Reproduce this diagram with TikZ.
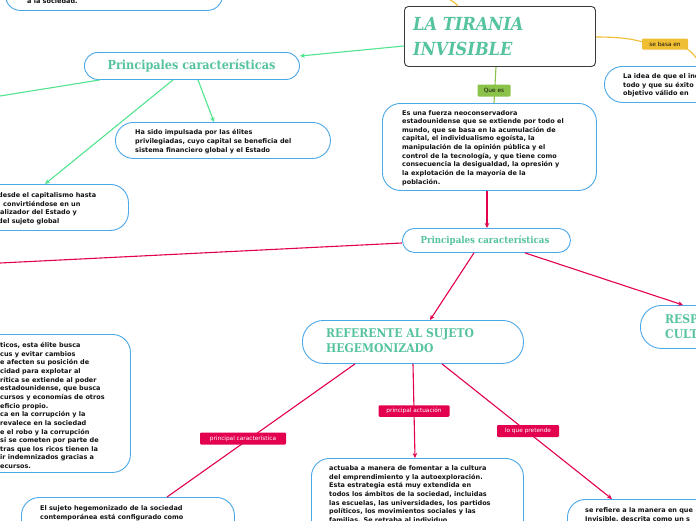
\documentclass[tikz,border=0pt]{standalone}
\usepackage{fontspec}
\setmainfont{DejaVu Sans}
\newfontfamily\slab[FakeStretch=0.9]{DejaVu Serif}
\usetikzlibrary{arrows.meta}
\definecolor{boxblue}{HTML}{4AA8E8}
\definecolor{mgreen}{HTML}{52E48E}
\definecolor{mred}{HTML}{E3004F}
\definecolor{myellow}{HTML}{F0BE32}
\definecolor{lgreen}{HTML}{8BC34A}
\definecolor{tealtxt}{HTML}{55C39E}
\definecolor{ink}{HTML}{111111}
\definecolor{frame}{HTML}{3A3A3A}
\tikzset{
  box/.style={draw=boxblue, line width=0.9pt, fill=white, anchor=north west, inner sep=0pt, rounded corners=#1},
  box/.default=17pt,
  body/.style={anchor=base west, inner sep=0pt, align=left, text=ink,
    font=\fontsize{6.5}{8.65}\selectfont\bfseries},
  head/.style={inner sep=0pt, text=tealtxt, font=\slab\bfseries\fontsize{12.5}{15}\selectfont},
  lab/.style={inner sep=0pt, rounded corners=1.2pt, font=\fontsize{5.8}{7}\selectfont},
  redlab/.style={lab, fill=mred, text=white},
  gline/.style={draw=mgreen, line width=1.1pt},
  rline/.style={draw=mred, line width=1.1pt},
  yline/.style={draw=myellow, line width=1.1pt},
  tip/.style={-{Stealth[length=5pt,width=4.5pt]}}
}
\begin{document}
\begin{tikzpicture}[x=1pt,y=-1pt]
\useasboundingbox (0,0) rectangle (696,520);
\clip (0,0) rectangle (696,520);
\fill[white] (0,0) rectangle (696,520);

% ---------- coordinates for connector ends ----------
\coordinate (ytop) at (450,0);
\coordinate (g0) at (0,96);
\coordinate (r0) at (0,263);
\coordinate (yend) at (703,70);

% ---------- boxes ----------
\node[box=15pt, minimum width=217pt, minimum height=50pt] (tl) at (5,-40) {};
\node[draw=frame, line width=0.9pt, fill=white, rounded corners=4pt, anchor=north west,
      minimum width=191pt, minimum height=60pt, inner sep=0pt] (title) at (404,6) {};
\node[box=13.5pt, minimum width=215pt, minimum height=27pt] (p1) at (84,52) {};
\node[box=18pt, minimum width=215pt, minimum height=36pt] (ha) at (115,122) {};
\node[box=18pt, minimum width=168pt, minimum height=46pt] (bl) at (-40,184) {};
\node[box=18pt, minimum width=130pt, minimum height=36pt] (idea) at (604,66) {};
\node[box=18pt, minimum width=214pt, minimum height=87pt] (es) at (382,103) {};
\node[box=12pt, minimum width=168pt, minimum height=24pt] (p2) at (402,228) {};
\node[box=21pt, minimum width=221pt, minimum height=43pt] (ref) at (302,320) {};
\node[box=21pt, minimum width=100pt, minimum height=43pt] (resp) at (640,305) {};
\node[box=18pt, minimum width=170pt, minimum height=138pt] (lb) at (-40,334) {};
\node[box=18pt, minimum width=213pt, minimum height=60pt] (suj) at (21,497) {};
\node[box=18pt, minimum width=212pt, minimum height=80pt] (act) at (311,458) {};
\node[box=18pt, minimum width=150pt, minimum height=60pt] (ser) at (567,499) {};

% ---------- connectors ----------
\draw[yline] (ytop) .. controls (454,2) .. (title.north west -| 458,6);
\draw[yline] (title.east |- 0,37) .. controls (625,37) and (635,40) .. (643,42);
\draw[yline] (686,48) .. controls (695,55) .. (yend);
\draw[draw=lgreen, line width=1.1pt] (title.south -| 496,66) -- (es.north -| 494,103);
\draw[gline, tip] (title.west |- 0,46) -- (p1.east |- 0,56);
\draw[gline] (p1.south west -| 100,80) -- (g0);
\draw[gline, tip] (p1.south -| 173,80) -- (bl.north -| 45,184);
\draw[gline, tip] (p1.south -| 198,80) -- (ha.north -| 214,122);
\draw[rline, tip] (es.south -| 487,190) -- (p2.north -| 487,228);
\draw[rline] (p2.west |- 0,243) -- (r0);
\draw[rline, tip] (p2.south -| 474,252) -- (ref.north -| 430,320);
\draw[rline, tip] (p2.south -| 525,252) -- (resp.north -| 683,305);
\draw[rline] (ref.south -| 355,363) -- (suj.north -| 167,497);
\draw[rline, tip] (ref.south -| 413,363) -- (act.north -| 415,458);
\draw[rline, tip] (ref.south -| 442,363) -- (ser.north -| 612,499);

% ---------- labels ----------
\node[lab, fill=myellow, text=ink, minimum width=46pt, minimum height=11pt] (lsb) at (665,44) {se basa en};
\node[lab, fill=lgreen, text=ink, minimum width=33pt, minimum height=12pt] (lqe) at (494,90.5) {Que es};
\node[redlab, minimum width=86pt, minimum height=12pt] (lpc) at (243,438.5) {principal característica};
\node[redlab, minimum width=71pt, minimum height=11.5pt] (lpa) at (414,411) {principal actuación};
\node[redlab, minimum width=62pt, minimum height=12pt] (llq) at (528,431) {lo que pretende};

% ---------- texts (anchor = baseline of the last line) ----------
\node[body] (ttl) at (27,3) {a la sociedad.};
\node[inner sep=0pt, anchor=base west, text=tealtxt, align=left,
      font=\slab\bfseries\itshape\fontsize{18}{25}\selectfont] (ttitle) at (413,55) {LA TIRANIA\\INVISIBLE};
\node[head, anchor=base] (tp1) at (191.5,69) {Principales características};
\node[body, font=\fontsize{6.5}{9}\selectfont\bfseries] (tha) at (135,152.5) {Ha sido impulsada por las élites\\privilegiadas, cuyo capital se beneficia del\\sistema financiero global y el Estado};
\node[body] (tbl) at (-2,223.5) {desde el capitalismo hasta\\\hspace*{5pt}convirtiéndose en un\\\hspace*{2pt}alizador del Estado y\\del sujeto global};
\node[body] (tidea) at (623,95.8) {La idea de que el individuo\\todo y que su éxito\\objetivo válido en};
\node[body] (tes) at (402,184.2) {Es una fuerza neoconservadora\\estadounidense que se extiende por todo el\\mundo, que se basa en la acumulación de\\capital, el individualismo egoísta, la\\manipulación de la opinión pública y el\\control de la tecnología, y que tiene como\\consecuencia la desigualdad, la opresión y\\la explotación de la mayoría de la\\población.};
\node[head, anchor=base, font=\slab\bfseries\fontsize{9.6}{12}\selectfont] (tp2) at (485,243.5) {Principales características};
\node[head, anchor=base west, align=left, font=\slab\bfseries\fontsize{12}{15}\selectfont] (tref) at (326,352) {REFERENTE AL SUJETO\\HEGEMONIZADO};
\node[head, anchor=base west, align=left, font=\slab\bfseries\fontsize{12}{15}\selectfont] (tresp) at (665,338) {RESP\\CULT};
\node[body] (tlb) at (0,468.6) {ticos, esta élite busca\\cus y evitar cambios\\e afecten su posición de\\cidad para explotar al\\rítica se extiende al poder\\ estadounidense, que busca\\cursos y economías de otros\\eficio propio.\\ca en la corrupción y la\\revalece en la sociedad\\e el robo y la corrupción\\si se cometen por parte de\\tras que los ricos tienen la\\ir indemnizados gracias a\\ecursos.};
\node[body] (tsuj) at (40,519.2) {El sujeto hegemonizado de la sociedad\\contemporánea está configurado como};
\node[body] (tact) at (329,522.4) {actuaba a manera de fomentar a la cultura\\del emprendimiento y la autoexploración.\\Esta estrategia está muy extendida en\\todos los ámbitos de la sociedad, incluidas\\las escuelas, las universidades, los partidos\\políticos, los movimientos sociales y las\\familias. Se retraba al individuo};
\node[body] (tser) at (585,521.2) {se refiere a la manera en que\\Invisible, descrita como un s};
\end{tikzpicture}
\end{document}
